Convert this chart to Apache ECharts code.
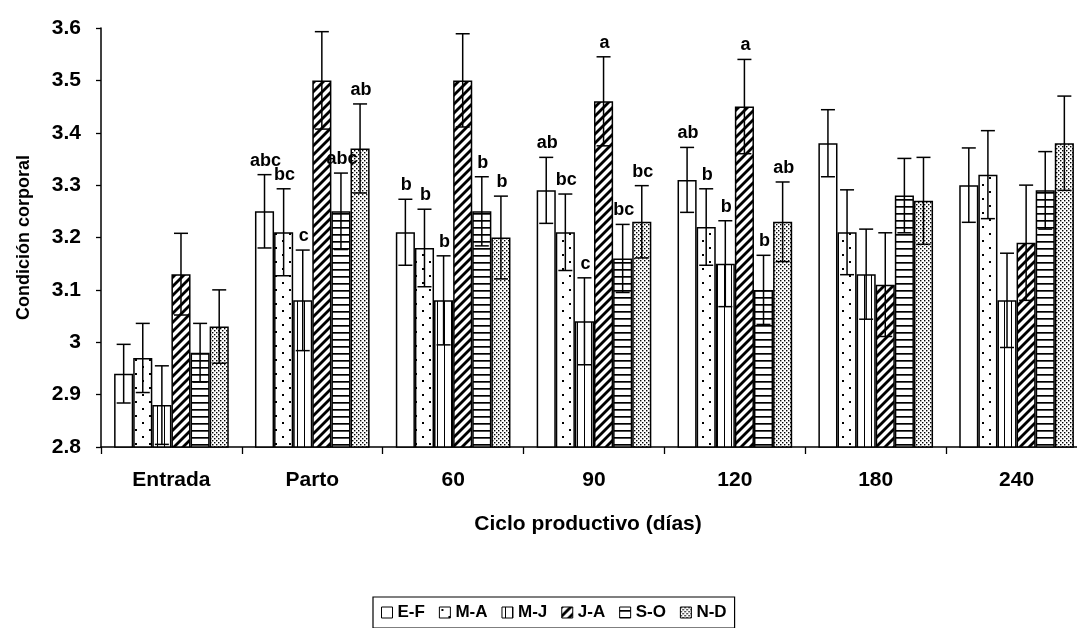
<!DOCTYPE html>
<html>
<head>
<meta charset="utf-8">
<script src="https://cdn.jsdelivr.net/npm/echarts@6/dist/echarts.min.js"></script>
<style>html,body{margin:0;padding:0;background:#fff;}#c{width:1077px;height:628px;}</style>
</head>
<body>
<div id="c"></div>
<script>
// ---- data ----
const categories = ['Entrada', 'Parto', '60', '90', '120', '180', '240'];
const seriesNames = ['E-F', 'M-A', 'M-J', 'J-A', 'S-O', 'N-D'];

const valuesEF = [2.94, 3.25, 3.21, 3.29, 3.31, 3.38, 3.30];
const valuesMA = [2.97, 3.21, 3.18, 3.21, 3.22, 3.21, 3.32];
const valuesMJ = [2.88, 3.08, 3.08, 3.04, 3.15, 3.13, 3.08];
const valuesJA = [3.13, 3.50, 3.50, 3.46, 3.45, 3.11, 3.19];
const valuesSO = [2.98, 3.25, 3.25, 3.16, 3.10, 3.28, 3.29];
const valuesND = [3.03, 3.37, 3.20, 3.23, 3.23, 3.27, 3.38];

const errEF = [0.056, 0.070, 0.063, 0.063, 0.062, 0.064, 0.071];
const errMA = [0.066, 0.083, 0.074, 0.073, 0.073, 0.081, 0.084];
const errMJ = [0.075, 0.096, 0.085, 0.083, 0.082, 0.086, 0.090];
const errJA = [0.078, 0.093, 0.089, 0.085, 0.090, 0.099, 0.110];
const errSO = [0.056, 0.073, 0.066, 0.065, 0.066, 0.071, 0.074];
const errND = [0.070, 0.085, 0.079, 0.069, 0.076, 0.083, 0.090];

const lettersEF = ['', 'abc', 'b', 'ab', 'ab', '', ''];
const lettersMA = ['', 'bc', 'b', 'bc', 'b', '', ''];
const lettersMJ = ['', 'c', 'b', 'c', 'b', '', ''];
const lettersJA = ['', 'a', 'a', 'a', 'a', '', ''];
const lettersSO = ['', 'abc', 'b', 'bc', 'b', '', ''];
const lettersND = ['', 'ab', 'b', 'bc', 'ab', '', ''];

const yMin = 2.8, yMax = 3.6, yStep = 0.1;
const xTitle = 'Ciclo productivo (días)';
const yTitle = 'Condición corporal';

const allValues = [valuesEF, valuesMA, valuesMJ, valuesJA, valuesSO, valuesND];
const allErr = [errEF, errMA, errMJ, errJA, errSO, errND];
const allLetters = [lettersEF, lettersMA, lettersMJ, lettersJA, lettersSO, lettersND];

// ---- patterns ----
function tile(w, h, draw) {
  const c = document.createElement('canvas');
  c.width = w; c.height = h;
  const ctx = c.getContext('2d');
  ctx.fillStyle = '#fff'; ctx.fillRect(0, 0, w, h);
  ctx.fillStyle = '#000'; ctx.strokeStyle = '#000';
  draw(ctx);
  return { image: c, repeat: 'repeat' };
}
const patterns = [
  '#ffffff',
  tile(14, 14, ctx => { ctx.fillRect(2, 2, 2, 2); ctx.fillRect(9, 9, 2, 2); }),
  tile(7, 7, ctx => { ctx.fillRect(3, 0, 1, 7); }),
  tile(9, 9, ctx => {
    ctx.lineWidth = 2.8;
    [0, 9, 18].forEach(c => { ctx.beginPath(); ctx.moveTo(c + 2, -2); ctx.lineTo(-2, c + 2); ctx.stroke(); });
  }),
  tile(7, 7, ctx => { ctx.fillRect(0, 3, 7, 1.7); }),
  tile(4, 4, ctx => { ctx.fillRect(0, 0, 1.4, 1.4); ctx.fillRect(2, 2, 1.4, 1.4); })
];

const FONT = '"Liberation Sans", Arial, sans-serif';
const catGap = 0.186;

const barSeries = seriesNames.map((n, k) => ({
  type: 'bar',
  name: n,
  data: allValues[k],
  barGap: '0%',
  barCategoryGap: (catGap * 100) + '%',
  itemStyle: { color: patterns[k], borderColor: '#000', borderWidth: 1.5 },
  emphasis: { disabled: true },
  z: 2
}));

const errSeries = seriesNames.map((n, k) => ({
  type: 'custom',
  name: n + ' err',
  clip: true,
  z: 5,
  silent: true,
  data: categories.map((c, i) => [i, allValues[k][i], allErr[k][i]]),
  renderItem: function (params, api) {
    const ci = api.value(0), v = api.value(1), e = api.value(2);
    const band = api.size([1, 0])[0];
    const groupW = band * (1 - catGap);
    const barW = groupW / seriesNames.length;
    const base = api.coord([ci, v]);
    const x = base[0] - groupW / 2 + barW * (k + 0.5);
    const yTop = api.coord([ci, v + e])[1];
    const yBot = api.coord([ci, v - e])[1];
    const cap = 7;
    const st = { stroke: '#000', lineWidth: 1.5 };
    const children = [
      { type: 'line', shape: { x1: x, y1: yTop, x2: x, y2: yBot }, style: st },
      { type: 'line', shape: { x1: x - cap, y1: yTop, x2: x + cap, y2: yTop }, style: st },
      { type: 'line', shape: { x1: x - cap, y1: yBot, x2: x + cap, y2: yBot }, style: st }
    ];
    const lab = allLetters[k][ci];
    if (lab) {
      children.push({
        type: 'text',
        style: {
          x: x + 1, y: yTop - 5, text: lab, fill: '#000',
          font: 'bold 18px ' + FONT, align: 'center', verticalAlign: 'bottom'
        }
      });
    }
    return { type: 'group', children: children };
  }
}));

const chart = echarts.init(document.getElementById('c'), null, { renderer: 'canvas' });
chart.setOption({
  animation: false,
  backgroundColor: '#fff',
  grid: { left: 101, top: 28, width: 986, height: 419, containLabel: false, outerBoundsMode: 'none' },
  legend: {
    data: seriesNames,
    left: 373, top: 597,
    padding: [7, 8, 7, 8],
    itemGap: 14,
    itemWidth: 11, itemHeight: 11,
    borderColor: '#000', borderWidth: 1.2, borderRadius: 0,
    icon: 'rect',
    itemStyle: { borderColor: '#000', borderWidth: 1 },
    textStyle: { fontFamily: FONT, fontWeight: 'bold', fontSize: 17, color: '#000' },
    selectedMode: false
  },
  xAxis: {
    type: 'category',
    data: categories,
    name: xTitle,
    nameLocation: 'middle',
    nameGap: 67,
    nameTextStyle: { fontFamily: FONT, fontWeight: 'bold', fontSize: 21, color: '#000', padding: [0, 12, 0, 0] },
    axisLine: { lineStyle: { color: '#000', width: 1.5 } },
    axisTick: { show: true, length: 7, lineStyle: { color: '#000', width: 1.3 } },
    axisLabel: { margin: 23, fontFamily: FONT, fontWeight: 'bold', fontSize: 21, color: '#000' },
    splitLine: { show: false }
  },
  yAxis: {
    type: 'value',
    min: yMin, max: yMax, interval: yStep,
    name: yTitle,
    nameLocation: 'middle',
    nameGap: 68,
    nameTextStyle: { fontFamily: FONT, fontWeight: 'bold', fontSize: 18, color: '#000' },
    axisLine: { show: true, lineStyle: { color: '#000', width: 1.5 } },
    axisTick: { show: true, length: 5, lineStyle: { color: '#000', width: 1.3 } },
    axisLabel: { margin: 20, fontFamily: FONT, fontWeight: 'bold', fontSize: 21, color: '#000' },
    splitLine: { show: false }
  },
  series: barSeries.concat(errSeries)
});
</script>
</body>
</html>
